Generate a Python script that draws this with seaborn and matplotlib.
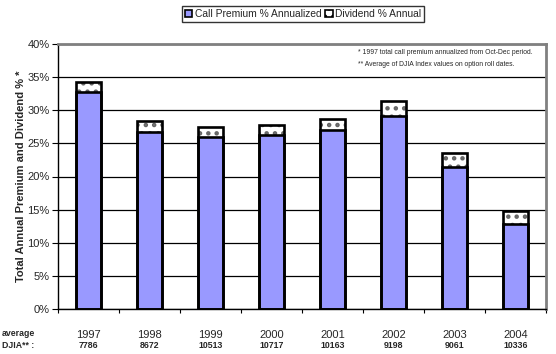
import matplotlib
matplotlib.use("Agg")
import matplotlib.pyplot as plt
import seaborn as sns
import pandas as pd
import numpy as np
from matplotlib.patches import Patch

years = ["1997", "1998", "1999", "2000", "2001", "2002", "2003", "2004"]
call_premium = [32.7, 26.7, 26.0, 26.2, 27.0, 29.2, 21.5, 12.8]
dividend = [1.6, 1.7, 1.5, 1.5, 1.7, 2.2, 2.0, 2.0]
djia = ["7786", "8672", "10513", "10717", "10163", "9198", "9061", "10336"]
yticks = [0, 5, 10, 15, 20, 25, 30, 35, 40]

total = [c + d for c, d in zip(call_premium, dividend)]
df = pd.DataFrame({"year": years, "call": call_premium, "total": total})

sns.set_theme(style="white")
plt.rcParams['font.family'] = ['Liberation Sans', 'DejaVu Sans']
plt.rcParams['hatch.linewidth'] = 2.0

W, H = 556, 354
fig = plt.figure(figsize=(W / 100, H / 100), dpi=100)
ax = fig.add_axes([58 / W, 1 - 309 / H, (546 - 58) / W, (309 - 44) / H])

blue = "#9999FF"
bw = 0.4
# dividend (hatched top) layer
sns.barplot(data=df, x="year", y="total", color="white", width=bw, saturation=1,
            hatch="..", edgecolor="#666666", linewidth=0, ax=ax, zorder=3)
# outline of total
sns.barplot(data=df, x="year", y="total", fill=False, color="black", width=bw,
            linewidth=1.9, ax=ax, zorder=5)
# call premium
sns.barplot(data=df, x="year", y="call", color=blue, width=bw, saturation=1,
            edgecolor="black", linewidth=1.9, ax=ax, zorder=4)

ax.set_ylim(0, 40)
ax.set_xlim(-0.5, len(years) - 0.5)
ax.set_yticks(yticks)
ax.set_yticklabels([f"{v}%" for v in yticks], fontsize=8)
ax.yaxis.grid(True, color="black", linewidth=0.9)
ax.set_axisbelow(True)
ax.tick_params(axis="y", which="major", left=True, length=4, width=0.8, color="black", pad=2)

ax.set_xticks(range(len(years)))
ax.set_xticklabels(years, fontsize=8)
ax.tick_params(axis="x", which="major", bottom=False, pad=9)
ax.set_xticks(np.arange(-0.5, len(years) - 0.4, 1), minor=True)
ax.tick_params(axis="x", which="minor", bottom=True, length=3, width=0.8, color="black")
ax.set_xlabel("")
ax.set_ylabel("Total Annual Premium and Dividend % *", fontsize=8, fontweight="bold", labelpad=1)

for s in ["left", "bottom"]:
    ax.spines[s].set_color("black")
    ax.spines[s].set_linewidth(1.0)
for s in ["top", "right"]:
    ax.spines[s].set_color("#808080")
    ax.spines[s].set_linewidth(2.0)
    ax.spines[s].set_visible(True)

# DJIA row
for i, v in enumerate(djia):
    ax.text(i, -0.136, v, transform=ax.get_xaxis_transform(), ha="center", va="center",
            fontsize=6.3, fontweight="bold")
fig.text(2 / W, 1 - 333 / H, "average", fontsize=6.3, fontweight="bold", ha="left", va="center")
fig.text(2 / W, 1 - 345 / H, "DJIA** :", fontsize=6.3, fontweight="bold", ha="left", va="center")

fig.text(358 / W, 1 - 52 / H, "* 1997 total call premium annualized from Oct-Dec period.",
         fontsize=4.9, ha="left", va="center")
fig.text(358 / W, 1 - 64 / H, "** Average of DJIA Index values on option roll dates.",
         fontsize=4.9, ha="left", va="center")

handles = [Patch(facecolor=blue, edgecolor="black", linewidth=1.2),
           Patch(facecolor="white", edgecolor="black", hatch="..", linewidth=1.2)]
leg = fig.legend(handles, ["Call Premium % Annualized", "Dividend % Annual"],
                 loc="center", bbox_to_anchor=(303 / W, 1 - 14 / H), ncol=2, fontsize=7.4,
                 frameon=True, fancybox=False, edgecolor="black", handlelength=0.7,
                 handleheight=0.7, handletextpad=0.2, columnspacing=0.4, borderpad=0.3,
                 borderaxespad=0)
leg.get_frame().set_linewidth(1.0)

fig.savefig("out.png", dpi=100)
